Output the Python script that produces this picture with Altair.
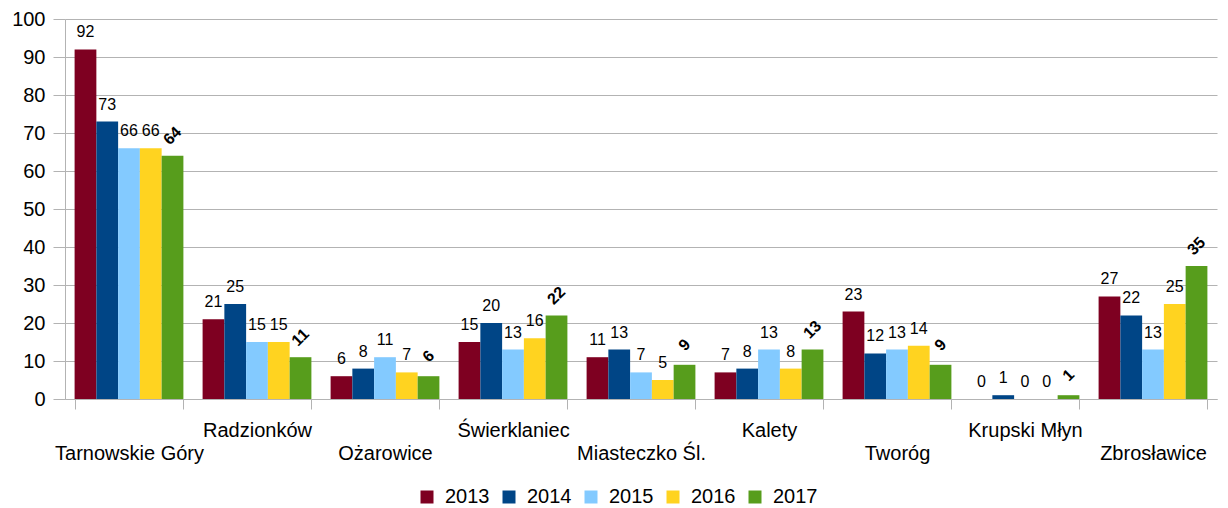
import json
import altair as alt
import pandas as pd

categories = ["Tarnowskie Góry", "Radzionków", "Ożarowice", "Świerklaniec",
              "Miasteczko Śl.", "Kalety", "Tworóg", "Krupski Młyn", "Zbrosławice"]
years = ["2013", "2014", "2015", "2016", "2017"]
v2013 = [92, 21, 6, 15, 11, 7, 23, 0, 27]
v2014 = [73, 25, 8, 20, 13, 8, 12, 1, 22]
v2015 = [66, 15, 11, 13, 7, 13, 13, 0, 13]
v2016 = [66, 15, 7, 16, 5, 8, 14, 0, 25]
v2017 = [64, 11, 6, 22, 9, 13, 9, 1, 35]
colors = ["#7E0021", "#004586", "#83CAFF", "#FFD320", "#579D1C"]
y_ticks = [0, 10, 20, 30, 40, 50, 60, 70, 80, 90, 100]

series = [v2013, v2014, v2015, v2016, v2017]
rows = []
for y, vals in zip(years, series):
    for c, v in zip(categories, vals):
        rows.append({"gmina": c, "rok": y, "value": v})
df = pd.DataFrame(rows)

FONT = "Liberation Sans"
GRID = "#b3b3b3"

cat_list = json.dumps(categories, ensure_ascii=False)
label_expr = f"indexof({cat_list}, datum.value) % 2 == 0 ? ['', datum.label] : datum.label"

x_enc = alt.X(
    "gmina:N", sort=categories, title=None,
    scale=alt.Scale(paddingInner=0.15, paddingOuter=0.075),
    axis=alt.Axis(labelAngle=0, labelFont=FONT, labelFontSize=20, labelColor="#000000",
                  labelExpr=label_expr, labelLineHeight=23.5, labelPadding=11,
                  tickBand="extent", tickSize=10, tickColor=GRID, domainColor=GRID,
                  grid=False, labelBaseline="top"),
)
y_enc = alt.Y(
    "value:Q", title=None,
    scale=alt.Scale(domain=[0, 100], nice=False),
    axis=alt.Axis(values=y_ticks, labelFont=FONT, labelFontSize=20, labelOverlap=False,
                  labelColor="#000000", labelPadding=8, tickSize=12, tickColor=GRID,
                  domainColor=GRID, gridColor=GRID),
)
xoff = alt.XOffset("rok:N", sort=years)

bars = alt.Chart(df).mark_bar().encode(
    x=x_enc, y=y_enc, xOffset=xoff,
    color=alt.Color("rok:N", sort=years,
                    scale=alt.Scale(domain=years, range=colors),
                    legend=alt.Legend(title=None, orient="none", direction="horizontal",
                                      legendX=352, legendY=468, padding=0,
                                      symbolType="square", symbolSize=169,
                                      symbolStrokeWidth=0, labelFont=FONT,
                                      labelFontSize=20, labelColor="#000000",
                                      columnPadding=9, labelOffset=8)),
)

labels_a = alt.Chart(df).transform_filter(alt.datum.rok != "2017").mark_text(
    font=FONT, fontSize=16, align="center", baseline="bottom", dy=-9, color="#000000"
).encode(x=x_enc, y=y_enc, xOffset=xoff, text="value:Q")

labels_b = alt.Chart(df).transform_filter(alt.datum.rok == "2017").mark_text(
    font=FONT, fontSize=16, fontWeight="bold", align="center", baseline="middle",
    angle=315, dx=14, dy=-14, color="#000000"
).encode(x=x_enc, y=y_enc, xOffset=xoff, text="value:Q")

chart = alt.layer(bars, labels_a, labels_b).properties(
    width=1152, height=380,
    padding={"left": 3, "top": 1, "right": 3, "bottom": 3},
).configure_view(stroke=None)

chart.save("out.html", embed_options={"renderer": "svg", "actions": False})
